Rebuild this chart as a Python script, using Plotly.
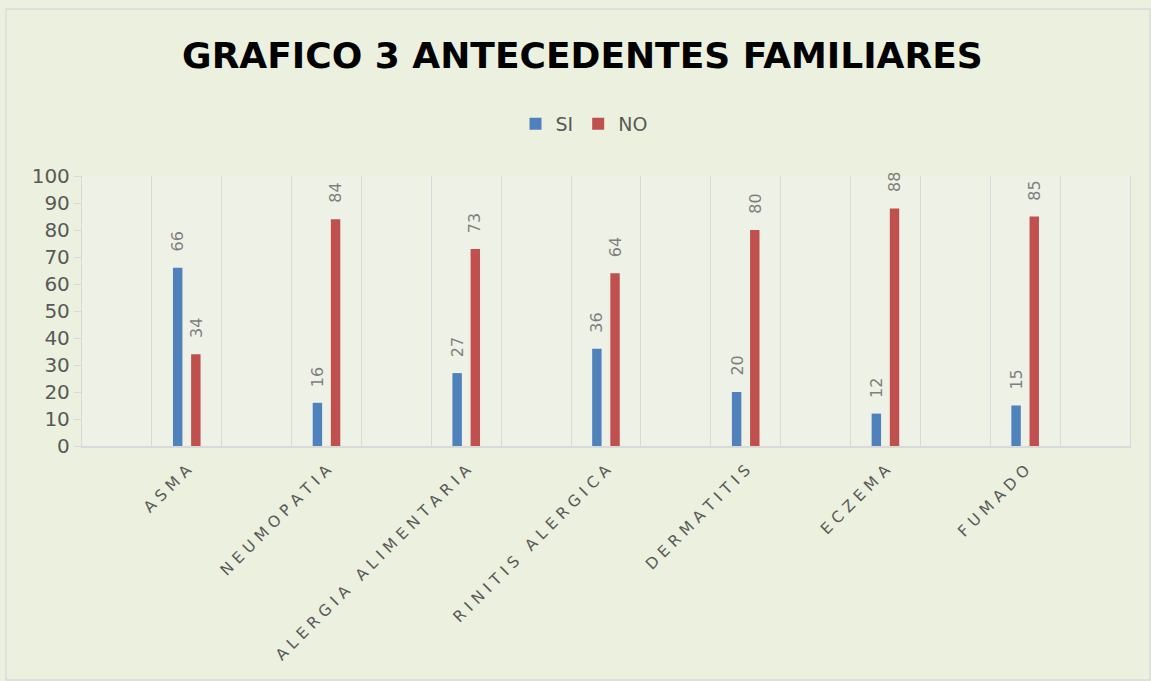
import plotly.graph_objects as go

# ---- data ----
categories = ["ASMA", "NEUMOPATIA", "ALERGIA ALIMENTARIA", "RINITIS ALERGICA",
              "DERMATITIS", "ECZEMA", "FUMADO"]
series_names = ["SI", "NO"]
si_values = [66, 16, 27, 36, 20, 12, 15]
no_values = [34, 84, 73, 64, 80, 88, 85]
y_ticks = list(range(0, 101, 10))

# ---- styling ----
W, H = 1151, 681
ML, MR, MT, MB = 82, 21, 176, 235
colors = {"SI": "#4F81BD", "NO": "#C0504D"}
bar_w = 0.135
offsets = {"SI": -0.198, "NO": 0.062}
FONT = "DejaVu Sans"
grey_txt = "#595959"
line_col = "#D9D9D9"
LETTER_GAP = "\u2004"  # emulate the wide character spacing of the category labels


def spaced(label):
    return LETTER_GAP.join(label)


# source sheet has an empty slot before each category (and one at the end)
n_slots = 2 * len(categories) + 1
x_pos = [2 * (i + 1) for i in range(len(categories))]

fig = go.Figure()
annotations = []
for name, vals in zip(series_names, [si_values, no_values]):
    fig.add_trace(go.Bar(
        x=x_pos, y=vals, name=name,
        width=bar_w, offset=offsets[name],
        marker=dict(color=colors[name], line=dict(width=0)),
    ))
    for xp, v in zip(x_pos, vals):
        annotations.append(dict(
            x=xp + offsets[name] + bar_w / 2, y=v, xref="x", yref="y",
            text=str(v), textangle=-90, showarrow=False,
            xanchor="center", yanchor="bottom", yshift=14,
            font=dict(family=FONT, size=16, color="#7F7F7F"),
        ))

plot_w = W - ML - MR
plot_h = H - MT - MB

fig.update_layout(
    width=W, height=H, autosize=False,
    margin=dict(l=ML, r=MR, t=MT, b=MB, pad=0),
    paper_bgcolor="#EBF1DE",
    plot_bgcolor="#EEF2E6",
    barmode="overlay",
    title=dict(
        text="<b>GRAFICO 3 ANTECEDENTES FAMILIARES</b>",
        font=dict(family=FONT, size=36, color="#000000"),
        x=0.506, xanchor="center", y=1 - 55 / H, yanchor="middle",
    ),
    legend=dict(
        orientation="h", x=(584 - ML) / plot_w, xanchor="center",
        y=1 + (MT - 124) / plot_h, yanchor="middle",
        font=dict(family=FONT, size=19, color=grey_txt),
        bgcolor="rgba(0,0,0,0)", itemsizing="constant",
    ),
    xaxis=dict(
        range=[0.5, n_slots + 0.5],
        tickmode="array", tickvals=x_pos, ticktext=[spaced(c) for c in categories],
        tickangle=-45, ticks="", showgrid=False, zeroline=False,
        showline=True, linecolor=line_col, linewidth=2,
        ticklabelstandoff=7,
        tickfont=dict(family=FONT, size=15.5, color=grey_txt),
        minor=dict(tickmode="array",
                   tickvals=[k + 0.5 for k in range(n_slots + 1)],
                   showgrid=True, gridcolor=line_col, gridwidth=1.3, ticks=""),
    ),
    yaxis=dict(
        range=[0, 100], tickmode="array", tickvals=y_ticks,
        ticks="outside", ticklen=7, tickcolor=line_col, tickwidth=1.3,
        showgrid=False, zeroline=False,
        showline=True, mirror=True, linecolor=line_col, linewidth=1.3,
        tickfont=dict(family=FONT, size=20, color=grey_txt),
    ),
    annotations=annotations,
    shapes=[dict(
        type="rect", xref="paper", yref="paper",
        x0=(6 - ML) / plot_w, x1=(1150 - ML) / plot_w,
        y0=-(680 - (H - MB)) / plot_h, y1=1 + (MT - 9) / plot_h,
        line=dict(color=line_col, width=1.3), fillcolor="rgba(0,0,0,0)",
        layer="below",
    )],
)

fig.write_html(
    "out.html",
    config={"displayModeBar": False},
    post_script="document.body.style.margin='0';document.body.style.overflow='hidden';",
)
